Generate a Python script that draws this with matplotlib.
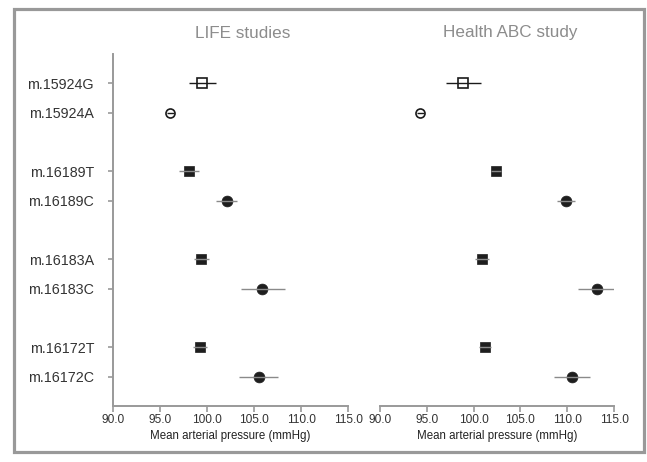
import numpy as np
import matplotlib
matplotlib.use('Agg')
import matplotlib.pyplot as plt
import matplotlib.patches as mpatches

plt.rcParams['font.family'] = ['Liberation Sans', 'DejaVu Sans']

# dados
variantes = ['m.15924G', 'm.15924A', 'm.16189T', 'm.16189C',
             'm.16183A', 'm.16183C', 'm.16172T', 'm.16172C']

life_media = [99.5, 96.1, 98.1, 102.1, 99.4, 105.9, 99.25, 105.55]
life_inf = [98.1, 95.7, 97.05, 101.0, 98.65, 103.6, 98.5, 103.4]
life_sup = [101.0, 96.5, 99.2, 103.2, 100.2, 108.3, 100.0, 107.6]

abc_media = [98.9, 94.3, 102.4, 109.9, 100.9, 113.2, 101.2, 110.55]
abc_inf = [97.1, 93.9, 101.9, 108.9, 100.2, 111.2, 100.6, 108.6]
abc_sup = [100.75, 94.7, 102.9, 110.8, 101.65, 115.0, 101.9, 112.4]

titulos = ['LIFE studies', 'Health ABC study']
xticks = [90.0, 95.0, 100.0, 105.0, 110.0, 115.0]

# estilo de marcador por linha (par aberto, par cheio)
marcadores = ['s', 'o', 's', 'o', 's', 'o', 's', 'o']
abertos = [True, True, False, False, False, False, False, False]

# posicoes: grupos de 2 com uma linha vazia entre eles
ypos = [(i // 2) * 3 + (i % 2) for i in range(len(variantes))]

cinza = '#999999'
W, H = 647, 462
fig = plt.figure(figsize=(W / 100, H / 100), dpi=100)

eixos = [fig.add_axes([113 / W, 1 - 406 / H, 235 / W, 352 / H]),
         fig.add_axes([380 / W, 1 - 406 / H, 234 / W, 352 / H])]

dados = [(life_media, life_inf, life_sup), (abc_media, abc_inf, abc_sup)]

for k, ax in enumerate(eixos):
    media, inf, sup = dados[k]
    for i in range(len(variantes)):
        if abertos[i]:
            ms = 7.5 if marcadores[i] == 's' else 6.5
            ax.plot(media[i], ypos[i], marker=marcadores[i], ms=ms,
                    mfc='white', mec='#1a1a1a', mew=1.2, zorder=2)
            ax.hlines(ypos[i], inf[i], sup[i], color='#1a1a1a', lw=1.0, zorder=3)
        else:
            ms = 7.0 if marcadores[i] == 's' else 7.8
            ax.plot(media[i], ypos[i], marker=marcadores[i], ms=ms,
                    mfc='#1e1e1e', mec='#1e1e1e', mew=0.5, zorder=2)
            ax.hlines(ypos[i], inf[i], sup[i], color='#8a8a8a', lw=1.0, zorder=3)

    ax.set_xlim(90, 115)
    ax.set_ylim(ypos[-1] + 1, -1)
    ax.set_xticks(xticks)
    ax.set_xticklabels([f'{v:.1f}' for v in xticks], fontsize=8.6, color='#333333')
    ax.tick_params(axis='x', colors=cinza, labelcolor='#333333', length=4, width=1.2, pad=2)
    ax.set_xlabel('Mean arterial pressure (mmHg)', fontsize=8.3, color='#222222', labelpad=3)
    ax.spines['top'].set_visible(False)
    ax.spines['right'].set_visible(False)
    ax.spines['bottom'].set_color(cinza)
    ax.spines['bottom'].set_linewidth(1.4)
    if k == 0:
        ax.set_yticks(ypos)
        ax.set_yticklabels(variantes, fontsize=10.3, color='#333333')
        ax.tick_params(axis='y', colors=cinza, labelcolor='#333333', length=3.6, width=1.2, pad=10)
        ax.spines['left'].set_color(cinza)
        ax.spines['left'].set_linewidth(1.4)
    else:
        ax.set_yticks([])
        ax.spines['left'].set_visible(False)
    ax.set_facecolor('none')

fig.text(243 / W, 1 - 33 / H, titulos[0], fontsize=12.3, color='#8c8c8c', ha='center', va='center')
fig.text(510 / W, 1 - 33 / H, titulos[1], fontsize=12.3, color='#8c8c8c', ha='center', va='center')

# moldura cinza
moldura = mpatches.Rectangle((13.5 / W, 1 - 451.5 / H), 630 / W, 443 / H,
                             transform=fig.transFigure, fill=False,
                             edgecolor=cinza, lw=2.3)
fig.patches.append(moldura)

fig.savefig('out.png', dpi=100)
